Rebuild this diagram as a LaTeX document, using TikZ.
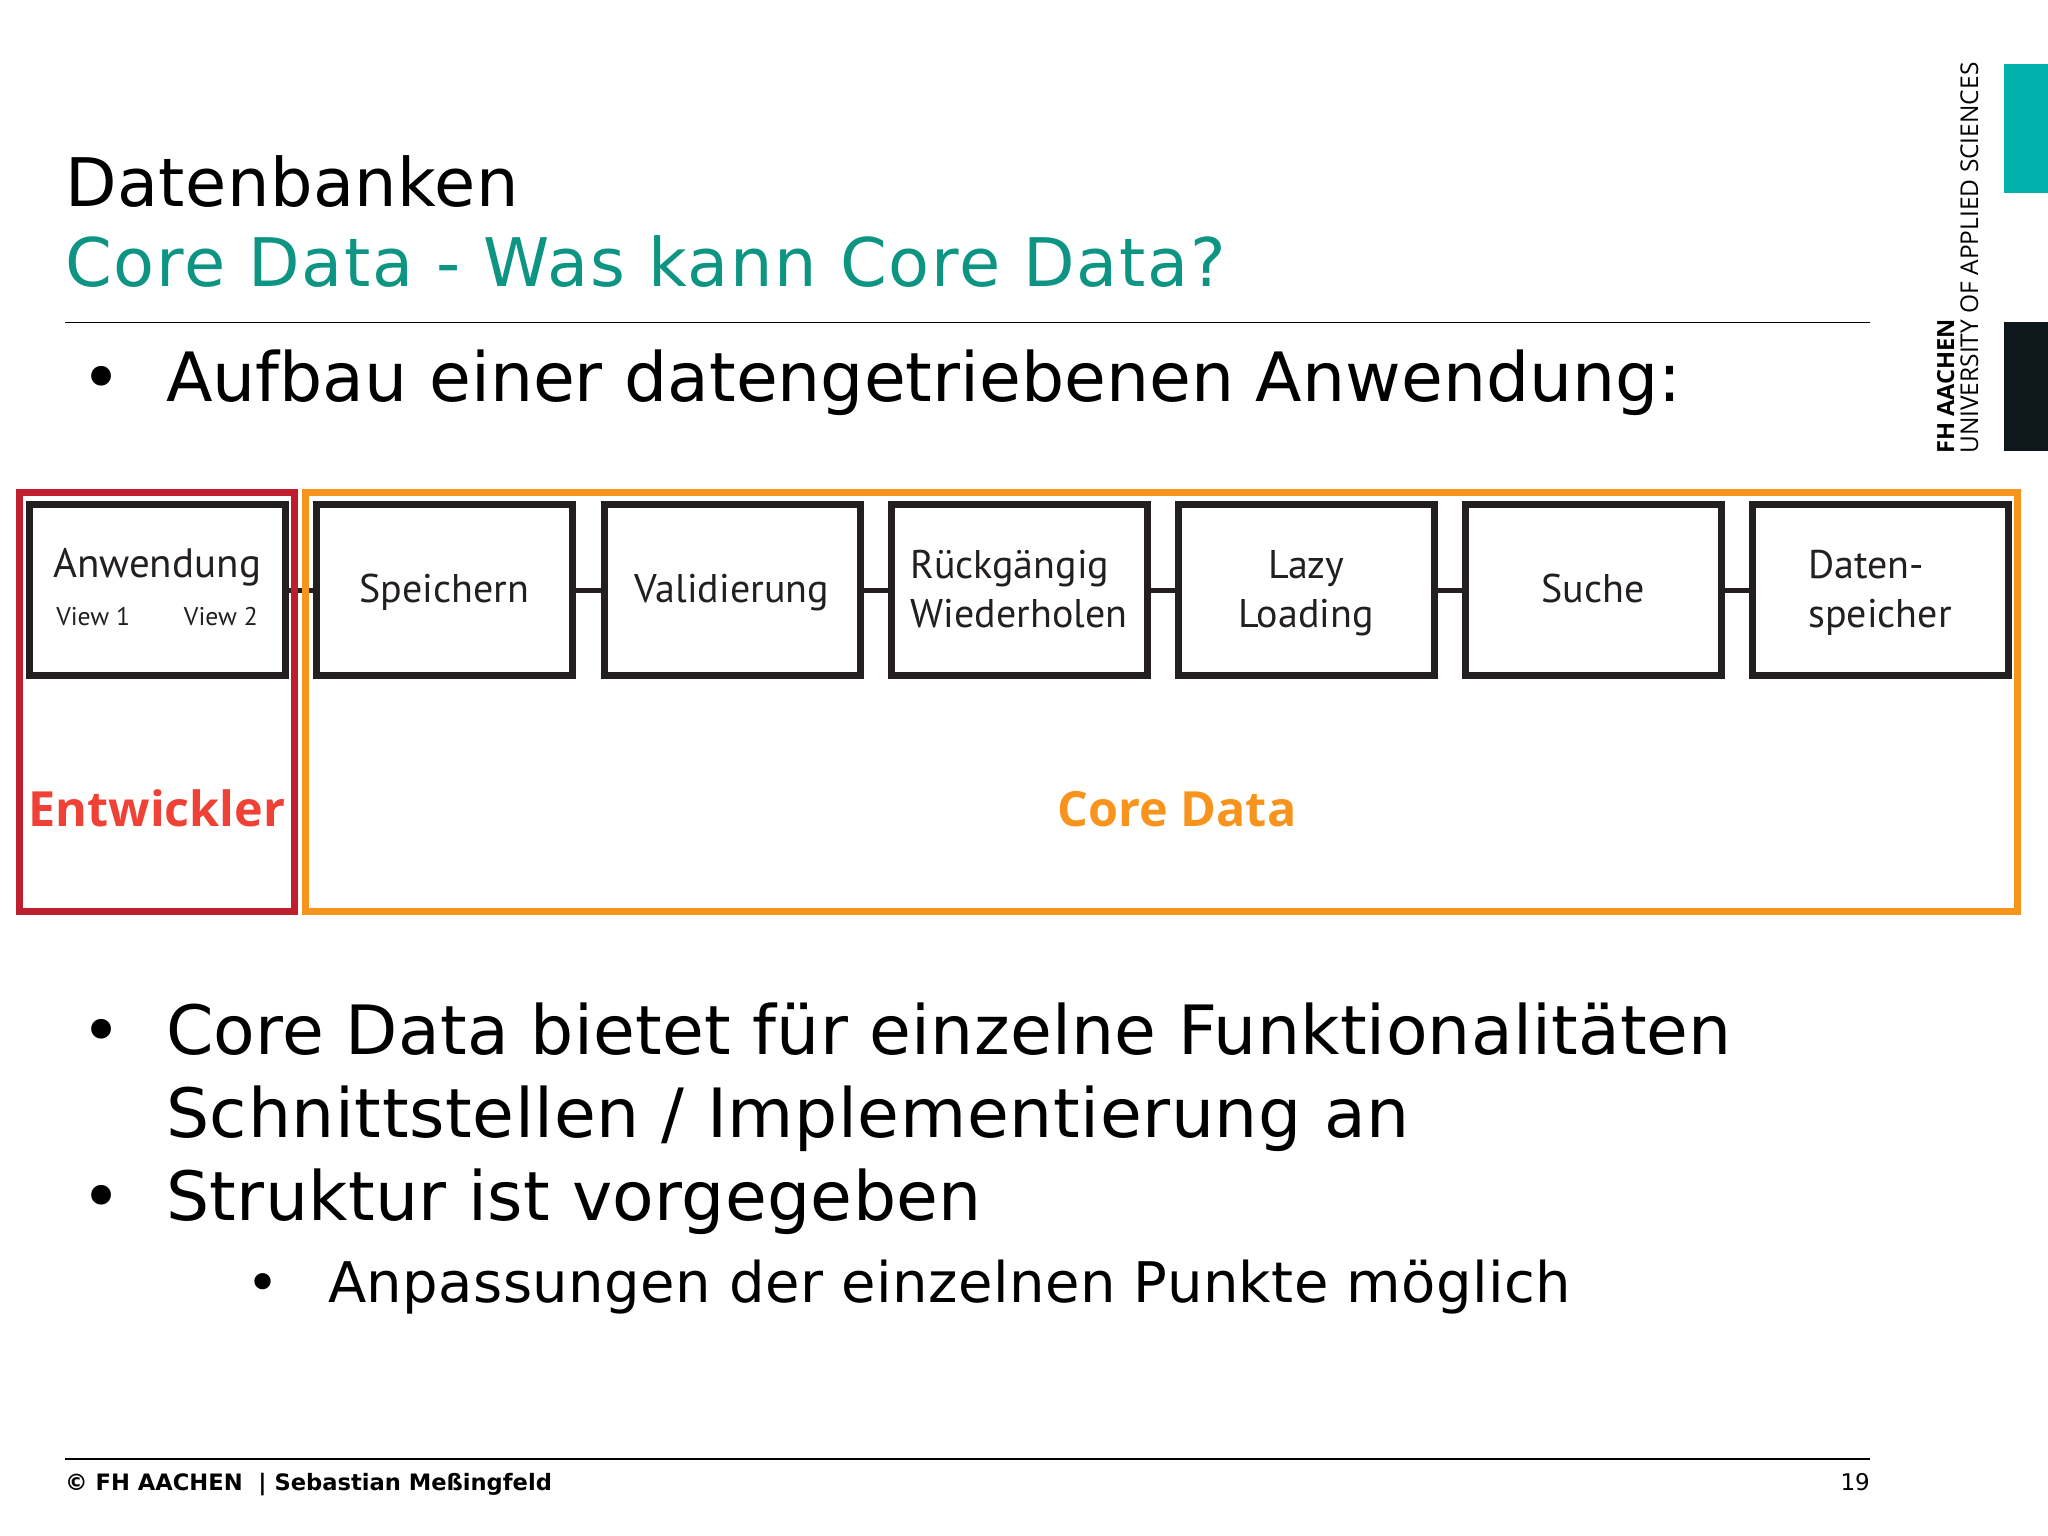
\documentclass[tikz,border=0pt]{standalone}
\usepackage{fontspec}
\setmainfont{DejaVu Sans}
\newfontfamily\boxfont{PT Sans}
\newfontfamily\logofont{Open Sans}
\definecolor{titleteal}{RGB}{13,148,130}
\definecolor{logoteal}{RGB}{0,177,172}
\definecolor{logodark}{RGB}{13,23,28}
\definecolor{framered}{RGB}{190,30,45}
\definecolor{frameorange}{RGB}{247,148,30}
\definecolor{labelred}{RGB}{239,65,54}
\definecolor{boxblack}{RGB}{35,31,32}
\newcommand{\spaced}[1]{\addfontfeature{LetterSpace=#1}}
\tikzset{
  px/.style={x=1pt,y=-1pt},
  fbox/.style={draw=boxblack,line width=7pt,minimum width=256pt,minimum height=171pt,inner sep=0pt,
    font=\fontsize{40}{49}\boxfont,text=boxblack},
  oneline/.style={text height=30pt,text depth=6pt},
  twoline/.style={text height=84pt,text depth=10pt},
  appline/.style={text height=80pt,text depth=10pt},
  link/.style={draw=boxblack,line width=5pt},
  rule/.style={draw=black,line width=1.5pt},
  frame/.style={draw,line width=7pt,fill=none,inner sep=0pt},
  titletext/.style={anchor=base west,inner sep=0pt,font=\fontsize{67}{67}\selectfont},
  bodytext/.style={anchor=base west,inner sep=0pt,font=\fontsize{68}{68}\selectfont},
  subtext/.style={anchor=base west,inner sep=0pt,font=\fontsize{56}{56}\selectfont},
  bigbold/.style={anchor=base,inner sep=0pt,font=\fontsize{48.5}{50}\logofont\bfseries},
}
\begin{document}
\begin{tikzpicture}[px]
\useasboundingbox (0,0) rectangle (2048,1536);
% title
\node[titletext] (t1) at (65,206) {\spaced{0.7}Datenbanken};
\node[titletext,text=titleteal] (t2) at (65,286) {\spaced{2.6}Core Data - Was kann Core Data?};
\coordinate (r1a) at (65,322.5); \coordinate (r1b) at (1870,322.5);
\draw[rule] (r1a) -- (r1b);
\node[bodytext] (b0) at (81,401) {•};
\node[bodytext] (l0) at (166,401) {Aufbau einer datengetriebenen Anwendung:};
% boxes
\node[fbox,appline,align=center] (a) at (157,590) {{\fontsize{41}{49}\selectfont Anwendung}\\[-1pt]{\fontsize{25.6}{34}\selectfont View 1\hspace{54pt}View 2\hspace{5pt}}};
\node[fbox,oneline] (b) at (444.5,590) {Speichern};
\node[fbox,oneline] (c) at (732,590) {Validierung};
\node[fbox,twoline,align=left] (d) at (1019,590) {Rückgängig\\Wiederholen};
\node[fbox,twoline,align=center] (e) at (1306,590) {Lazy\\Loading};
\node[fbox,oneline] (f) at (1593,590) {Suche};
\node[fbox,twoline,align=left] (g) at (1880,590) {Daten-\\speicher};
\foreach \p/\q in {a/b,b/c,c/d,d/e,e/f,f/g} \draw[link] (\p) -- (\q);
% frames
\draw[frame,draw=framered] (19.5,492.5) rectangle (294.5,911.5);
\draw[frame,draw=frameorange] (305,492.5) rectangle (2017,911.5);
\node[bigbold,text=labelred] (dev) at (157,826) {Entwickler};
\node[bigbold,text=frameorange] (cd) at (1177,826) {Core Data};
% body
\node[bodytext] (b1) at (81,1054) {•};
\node[bodytext] (l1) at (166,1054) {\spaced{0.3}Core Data bietet für einzelne Funktionalitäten};
\node[bodytext] (l2) at (166,1137.5) {\spaced{0.9}Schnittstellen / Implementierung an};
\node[bodytext] (b2) at (81,1220) {•};
\node[bodytext] (l3) at (166,1220) {\spaced{0.5}Struktur ist vorgegeben};
\node[subtext] (b3) at (246,1302) {•};
\node[subtext] (l4) at (328,1302) {\spaced{0.8}Anpassungen der einzelnen Punkte möglich};
% footer
\coordinate (r2a) at (65,1459); \coordinate (r2b) at (1870,1459);
\draw[rule] (r2a) -- (r2b);
\node[anchor=base west,inner sep=0pt,font=\fontsize{22.6}{23}\selectfont\bfseries] (foot) at (65,1490) {© FH AACHEN\ \ | Sebastian Meßingfeld};
\node[anchor=base east,inner sep=0pt,font=\fontsize{23}{23}\selectfont] (num) at (1870,1490) {19};
% logo
\fill[logoteal] (2004,64) rectangle (2048,193);
\fill[logodark] (2004,322) rectangle (2048,451);
\node[anchor=base west,rotate=90,inner sep=0pt,font=\fontsize{24.5}{25}\logofont] (uni) at (1978,454) {UNIVERSITY OF APPLIED SCIENCES};
\node[anchor=base west,rotate=90,inner sep=0pt,font=\fontsize{23.6}{25}\logofont\bfseries] (fh) at (1954,454) {FH AACHEN};
\end{tikzpicture}
\end{document}
